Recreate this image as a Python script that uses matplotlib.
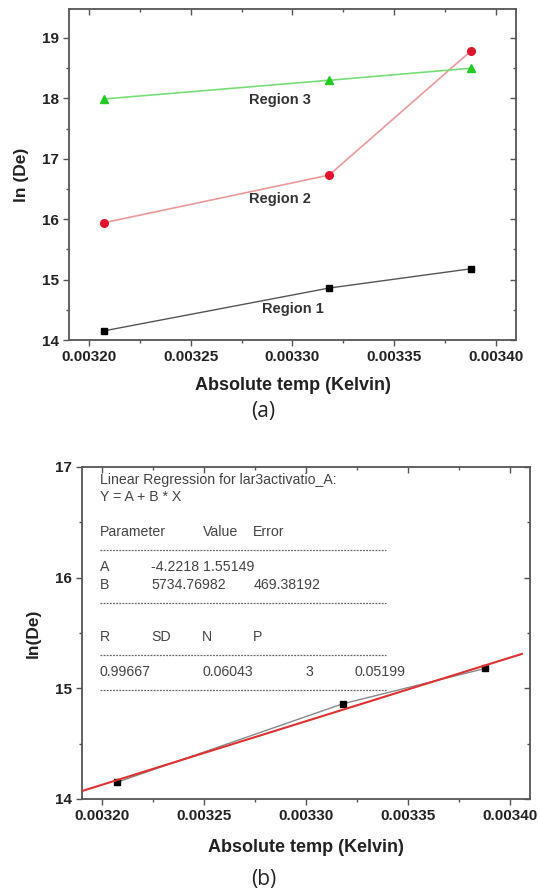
import numpy as np
import matplotlib.pyplot as plt
from matplotlib.ticker import MultipleLocator, FormatStrFormatter

plt.rcParams['font.family'] = ['Liberation Sans', 'DejaVu Sans']

# data
inv_temp = [0.003207, 0.003318, 0.003388]
region1 = [14.15, 14.86, 15.18]
region2 = [15.94, 16.73, 18.79]
region3 = [17.99, 18.30, 18.50]
region_labels = ["Region 1", "Region 2", "Region 3"]
label_x = [0.0033, 0.003294, 0.003294]
label_y = [14.52, 16.33, 17.97]

fit_A = -4.2218
fit_B = 5734.76982
fit_x = [0.00319, 0.003406]

box_rows = [
    ["Linear Regression for lar3activatio_A:"],
    ["Y = A + B * X"],
    ["Parameter", "Value", "Error"],
    ["A", "-4.2218 1.55149"],
    ["B", "5734.76982", "469.38192"],
    ["R", "SD", "N", "P"],
    ["0.99667", "0.06043", "3", "0.05199"],
]

frame_col = '#555555'


def style_axes(ax, ylo, yhi):
    ax.set_xlim(0.00319, 0.00341)
    ax.set_ylim(ylo, yhi)
    ax.xaxis.set_major_locator(MultipleLocator(0.00005))
    ax.xaxis.set_minor_locator(MultipleLocator(0.000025))
    ax.xaxis.set_major_formatter(FormatStrFormatter('%.5f'))
    ax.yaxis.set_major_locator(MultipleLocator(1))
    ax.yaxis.set_minor_locator(MultipleLocator(0.5))
    for s in ax.spines.values():
        s.set_color(frame_col)
        s.set_linewidth(1.3)
    ax.tick_params(which='both', direction='out', colors=frame_col,
                   labelcolor='#222222', labelsize=11, width=1.0)
    ax.tick_params(which='major', length=4)
    ax.tick_params(which='minor', length=2.5)
    for lab in ax.get_xticklabels() + ax.get_yticklabels():
        lab.set_fontweight('bold')
    # inward ticks on top and right, Origin style
    top = ax.secondary_xaxis('top')
    top.xaxis.set_major_locator(MultipleLocator(0.00005))
    top.xaxis.set_minor_locator(MultipleLocator(0.000025))
    top.tick_params(which='both', direction='in', colors=frame_col, labeltop=False, width=1.0)
    top.tick_params(which='major', length=4)
    top.tick_params(which='minor', length=2.5)
    top.spines['top'].set_visible(False)
    right = ax.secondary_yaxis('right')
    right.yaxis.set_major_locator(MultipleLocator(1))
    right.yaxis.set_minor_locator(MultipleLocator(0.5))
    right.tick_params(which='both', direction='in', colors=frame_col, labelright=False, width=1.0)
    right.tick_params(which='major', length=4)
    right.tick_params(which='minor', length=2.5)
    right.spines['right'].set_visible(False)


fig = plt.figure(figsize=(5.38, 8.92), dpi=100)

# (a)
ax1 = fig.add_axes([69 / 538, 1 - 340 / 892, (516 - 69) / 538, (340 - 9) / 892])
style_axes(ax1, 14, 19.48)
ax1.plot(inv_temp, region1, color='#555555', lw=1.0, marker='s', ms=4.5,
         mfc='black', mec='black')
ax1.plot(inv_temp, region2, color='#ee9999', lw=1.2, marker='o', ms=5.5,
         mfc='#e0142c', mec='#e0142c')
ax1.plot(inv_temp, region3, color='#77dd77', lw=1.2, marker='^', ms=5.5,
         mfc='#22cc22', mec='#22cc22')
for lx, ly, lt in zip(label_x, label_y, region_labels):
    ax1.text(lx, ly, lt, ha='center', va='center', fontsize=10.5,
             fontweight='bold', color='#333333')
ax1.set_xlabel("Absolute temp (Kelvin)", fontsize=13, fontweight='bold',
               color='#222222', labelpad=9)
ax1.set_ylabel("ln (De)", fontsize=12.5, fontweight='bold', color='#222222',
               labelpad=9)
fig.text(0.49, 1 - 412 / 892, "(a)", ha='center', va='center', fontsize=15,
         family=['Open Sans', 'DejaVu Sans'], color='#222222')

# (b)
ax2 = fig.add_axes([82 / 538, 1 - 799 / 892, (530 - 82) / 538, (799 - 467) / 892])
style_axes(ax2, 14, 17)
ax2.plot(inv_temp, region1, color='#888888', lw=1.0, marker='s', ms=4.5,
         mfc='black', mec='black', zorder=3)
fx = np.array(fit_x)
ax2.plot(fx, fit_A + fit_B * fx, color='#e03030', lw=1.5, zorder=4)
ax2.set_xlabel("Absolute temp (Kelvin)", fontsize=13, fontweight='bold',
               color='#222222', labelpad=11)
ax2.set_ylabel("ln(De)", fontsize=12.5, fontweight='bold', color='#222222',
               labelpad=10)

col_x = {
    0: [0.040], 1: [0.040], 2: [0.040, 0.270, 0.382],
    3: [0.040, 0.154], 4: [0.040, 0.154, 0.382],
    5: [0.040, 0.154, 0.268, 0.382], 6: [0.040, 0.268, 0.498, 0.609],
}
row_y = [0.962, 0.910, 0.804, 0.699, 0.645, 0.488, 0.383]
for i, row in enumerate(box_rows):
    for cx, txt in zip(col_x[i], row):
        ax2.text(cx, row_y[i], txt, transform=ax2.transAxes, ha='left',
                 va='center', fontsize=10.2, color='#444444')
for dy in [0.750, 0.590, 0.434, 0.328]:
    ax2.plot([0.040, 0.679], [dy, dy], transform=ax2.transAxes,
             color='#666666', lw=0.9, ls=(0, (1.5, 1)))
fig.text(0.49, 1 - 880 / 892, "(b)", ha='center', va='center', fontsize=15,
         family=['Open Sans', 'DejaVu Sans'], color='#222222')

fig.savefig("out.png", dpi=100, facecolor='white')
